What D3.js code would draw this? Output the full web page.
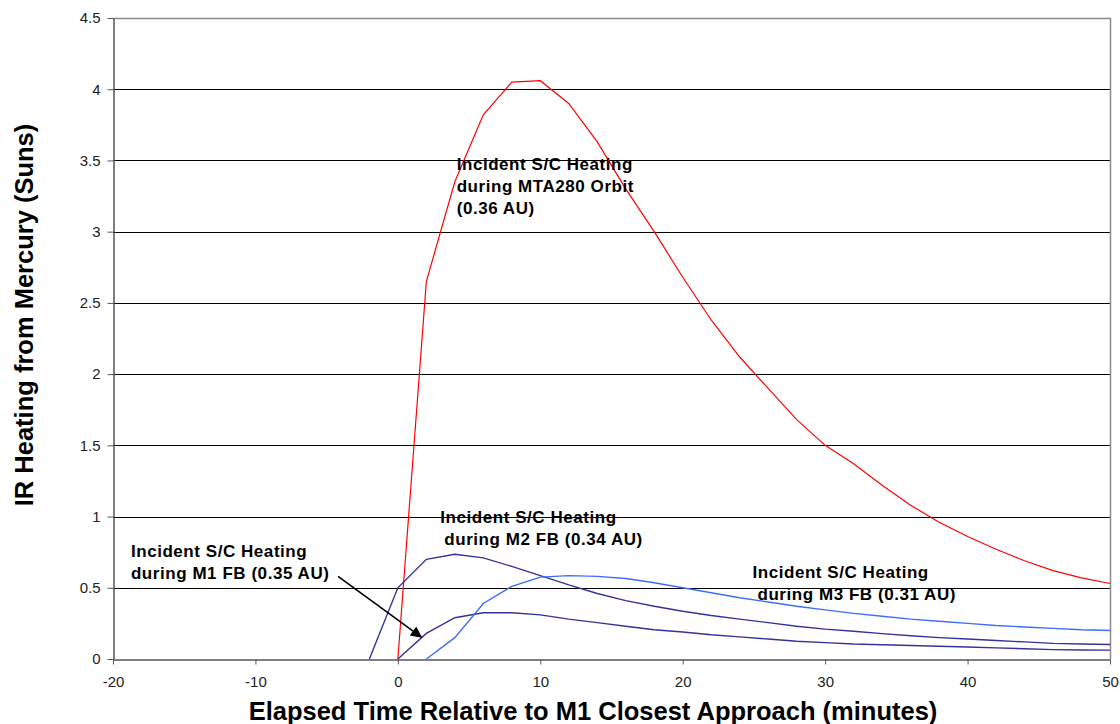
<!DOCTYPE html>
<html>
<head>
<meta charset="utf-8">
<script src="https://cdn.jsdelivr.net/npm/d3@7"></script>
<style>
  html, body { margin: 0; padding: 0; background: #fff; }
  svg { display: block; font-family: "Liberation Sans", Arial, sans-serif; }
</style>
</head>
<body>
<svg id="chart" width="1120" height="724"></svg>
<script>
// ---- data ----
const xTicks = [-20, -10, 0, 10, 20, 30, 40, 50];
const yTicks = [0, 0.5, 1, 1.5, 2, 2.5, 3, 3.5, 4, 4.5];

const mtaX = [0, 2, 4, 6, 8, 10, 12, 14, 16, 18, 20, 22, 24, 26, 28, 30, 32, 34, 36, 38, 40, 42, 44, 46, 48, 50];
const mtaY = [0, 2.65, 3.35, 3.82, 4.05, 4.06, 3.9, 3.63, 3.3, 3.0, 2.68, 2.38, 2.12, 1.9, 1.68, 1.5, 1.37, 1.22, 1.08, 0.96, 0.86, 0.77, 0.69, 0.62, 0.57, 0.53];

const m1X = [0, 2, 4, 6, 8, 10, 12, 14, 16, 18, 20, 22, 24, 26, 28, 30, 32, 34, 36, 38, 40, 42, 44, 46, 48, 50];
const m1Y = [0, 0.18, 0.29, 0.325, 0.325, 0.31, 0.28, 0.255, 0.23, 0.205, 0.19, 0.17, 0.155, 0.14, 0.125, 0.115, 0.105, 0.1, 0.095, 0.09, 0.084, 0.078, 0.072, 0.066, 0.063, 0.062];

const m2X = [-2, 0, 2, 4, 6, 8, 10, 12, 14, 16, 18, 20, 22, 24, 26, 28, 30, 32, 34, 36, 38, 40, 42, 44, 46, 48, 50];
const m2Y = [0, 0.5, 0.7, 0.735, 0.71, 0.65, 0.585, 0.52, 0.46, 0.41, 0.37, 0.335, 0.305, 0.28, 0.255, 0.23, 0.21, 0.195, 0.178, 0.163, 0.15, 0.14, 0.13, 0.12, 0.11, 0.105, 0.102];

const m3X = [2, 4, 6, 8, 10, 12, 14, 16, 18, 20, 22, 24, 26, 28, 30, 32, 34, 36, 38, 40, 42, 44, 46, 48, 50];
const m3Y = [0, 0.15, 0.39, 0.51, 0.575, 0.585, 0.58, 0.565, 0.535, 0.5, 0.465, 0.43, 0.4, 0.37, 0.345, 0.32, 0.3, 0.28, 0.265, 0.25, 0.235, 0.225, 0.215, 0.205, 0.2];

const seriesNames = ["MTA280", "M1 FB", "M2 FB", "M3 FB"];
const seriesColors = ["#ff0000", "#333399", "#333399", "#3d6dff"];

const annotations = [
  { x: 4.13, y: 3.434, lines: ["Incident S/C Heating", "during MTA280 Orbit", "(0.36 AU)"], dx: [0, 0, 0] },
  { x: 2.98, y: 0.955, lines: ["Incident S/C Heating", "during M2 FB (0.34 AU)"], dx: [0, 4] },
  { x: -18.74, y: 0.716, lines: ["Incident S/C Heating", "during M1 FB (0.35 AU)"], dx: [0, 0] },
  { x: 24.9, y: 0.572, lines: ["Incident S/C Heating", "during M3 FB (0.31 AU)"], dx: [0, 5] }
];
const arrowFrom = { x: -4.2, y: 0.58 };
const arrowTo = { x: 1.7, y: 0.15 };

// ---- layout ----
(function () {
const svg = d3.select("#chart");
const mLeft = 113, mRight = 1110, mTop = 18, mBottom = 659;
const x = d3.scaleLinear().domain([-20, 50]).range([mLeft, mRight]);
const y = d3.scaleLinear().domain([0, 4.5]).range([mBottom, mTop]);

// gridlines
svg.append("g").selectAll("line")
  .data(yTicks.filter(v => v > 0 && v < 4.5))
  .join("line")
  .attr("x1", mLeft).attr("x2", mRight)
  .attr("y1", d => Math.round(y(d)) + 0.5).attr("y2", d => Math.round(y(d)) + 0.5)
  .attr("stroke", "#000").attr("stroke-width", 1);

// border top/right
svg.append("path")
  .attr("d", `M${mLeft},${mTop + 0.5}H${mRight + 0.5}V${mBottom}`)
  .attr("fill", "none").attr("stroke", "#8a8a8a").attr("stroke-width", 1.5);

// axes
const yAxis = svg.append("g")
  .attr("transform", `translate(${mLeft + 0.5},0)`)
  .call(d3.axisLeft(y).tickValues(yTicks).tickSize(6).tickSizeOuter(0).tickPadding(7).tickFormat(d => String(d)));
const xAxis = svg.append("g")
  .attr("transform", `translate(0,${mBottom + 0.5})`)
  .call(d3.axisBottom(x).tickValues(xTicks).tickSize(5).tickSizeOuter(0).tickPadding(12).tickFormat(d => String(d)));

[yAxis, xAxis].forEach(g => {
  g.select(".domain").attr("stroke", "#555").attr("stroke-width", 1.5);
  g.selectAll(".tick line").attr("stroke", "#555");
  g.selectAll(".tick text").attr("fill", "#222").style("font-size", "15px")
    .style("font-family", "'Liberation Sans', Arial, sans-serif");
});

// series lines
const allSeries = [
  { xs: mtaX, ys: mtaY },
  { xs: m1X, ys: m1Y },
  { xs: m2X, ys: m2Y },
  { xs: m3X, ys: m3Y }
];
const line = d3.line().x(d => x(d[0])).y(d => y(d[1]));
allSeries.forEach((s, i) => {
  svg.append("path")
    .datum(s.xs.map((v, j) => [v, s.ys[j]]))
    .attr("class", "series")
    .attr("data-name", seriesNames[i])
    .attr("fill", "none")
    .attr("stroke", seriesColors[i])
    .attr("stroke-width", i === 0 ? 1.2 : 1.4)
    .attr("d", line);
});

// arrow
const defs = svg.append("defs");
defs.append("marker")
  .attr("id", "arrowhead")
  .attr("viewBox", "0 0 10 10")
  .attr("refX", 10).attr("refY", 5)
  .attr("markerWidth", 9).attr("markerHeight", 7)
  .attr("markerUnits", "strokeWidth")
  .attr("orient", "auto")
  .append("path").attr("d", "M0,0L10,5L0,10z").attr("fill", "#000");
svg.append("line")
  .attr("x1", x(arrowFrom.x)).attr("y1", y(arrowFrom.y))
  .attr("x2", x(arrowTo.x)).attr("y2", y(arrowTo.y))
  .attr("stroke", "#000").attr("stroke-width", 1.6)
  .attr("marker-end", "url(#arrowhead)");

// annotations
annotations.forEach(a => {
  const t = svg.append("text")
    .attr("x", x(a.x)).attr("y", y(a.y))
    .style("font-size", "17px").style("font-weight", "bold")
    .style("letter-spacing", "0.55px").attr("fill", "#000");
  a.lines.forEach((ln, i) => {
    t.append("tspan")
      .attr("x", x(a.x) + a.dx[i])
      .attr("dy", i === 0 ? 0 : 22)
      .text(ln);
  });
});

// axis titles
svg.append("text")
  .attr("x", 593).attr("y", 720)
  .attr("text-anchor", "middle")
  .style("font-size", "25.5px").style("font-weight", "bold")
  .text("Elapsed Time Relative to M1 Closest Approach (minutes)");
svg.append("text")
  .attr("transform", `translate(33,315) rotate(-90)`)
  .attr("text-anchor", "middle")
  .style("font-size", "25.5px").style("font-weight", "bold")
  .text("IR Heating from Mercury (Suns)");
})();
</script>
</body>
</html>
